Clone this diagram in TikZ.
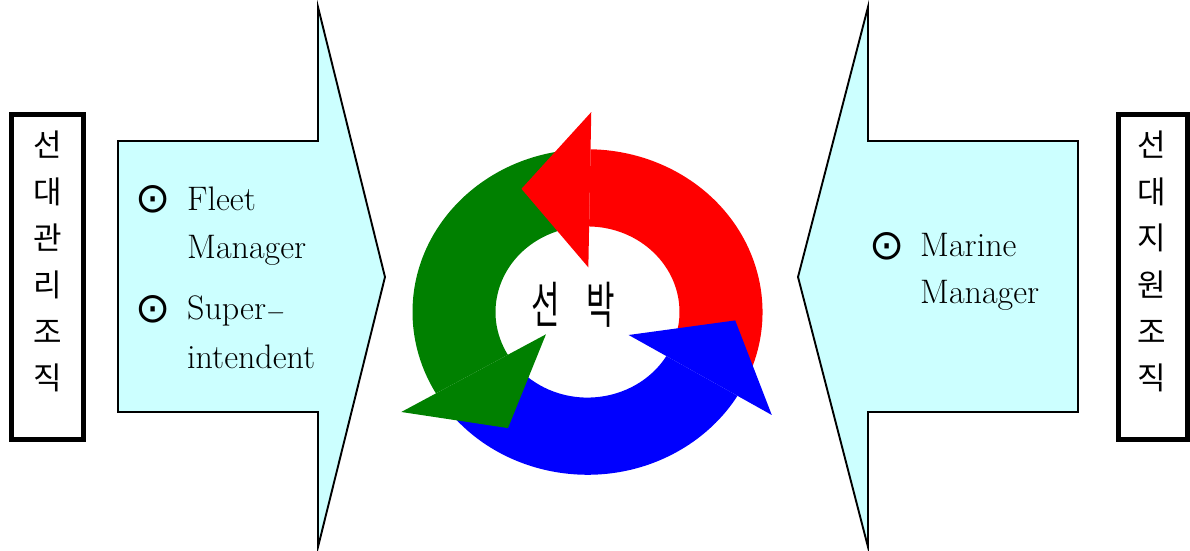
\documentclass[tikz,border=0pt]{standalone}
\usepackage{fontspec}
\newfontfamily\cjk{Noto Sans CJK KR}
\newfontfamily\sym{DejaVu Sans}
\usetikzlibrary{positioning}

\definecolor{paleaqua}{HTML}{CCFFFF}
\definecolor{cycred}{HTML}{FF0000}
\definecolor{cycgreen}{HTML}{008000}
\definecolor{cycblue}{HTML}{0000FF}

\begin{document}
\begin{tikzpicture}[x=1pt, y=-1pt,
			orgbox/.style={draw=black, line width=5pt, fill=white, minimum width=72pt, minimum height=325pt, inner sep=0pt},
			orgtext/.style={font=\cjk\fontsize{31}{46.6}\selectfont, align=center, inner sep=0pt},
			flow/.style={draw=black, line width=1.9pt, fill=paleaqua, line join=miter},
			bullet/.style={font=\sym\fontsize{42}{42}\selectfont, inner sep=0pt},
			item/.style={font=\fontsize{34}{48}\selectfont, inner sep=0pt, anchor=base west}
			]
			\useasboundingbox (0,0) rectangle (1190,550);
			\fill[white] (0,0) rectangle (1190,550);
			\draw[flow] (118,141) -- (318,141) -- (318,7) -- (385,277) -- (318,547) -- (318,412) -- (118,412) -- cycle;
			\draw[flow] (1078,141) -- (868,141) -- (868,7) -- (798,277) -- (868,547) -- (868,412) -- (1078,412) -- cycle;
			\node[orgbox] (mgmtbox) at (47.5,277) {};
			\node[orgtext] (mgmt) at (47.5,261.5) {선\\대\\관\\리\\조\\직};
			\node[orgbox, minimum width=69pt] (suppbox) at (1153,277) {};
			\node[orgtext] (supp) at (1152,261.5) {선\\대\\지\\원\\조\\직};
			\begin{scope}[shift={(587.5,312)}, yscale=-0.93]
				\foreach \s/\b/\col in {-29/89/cycred, 91/210/cycgreen, 212/329/cycblue}{
					\fill[\col] (\s:175) arc[start angle=\s, end angle=\b, radius=175] -- (\b:92) arc[start angle=\b, end angle=\s, radius=92] -- cycle;
				}
				\foreach \b/\col in {89/cycred, 210/cycgreen, 329/cycblue}{
					\fill[\col] (\b:215) -- (\b+27.5:148) -- (\b:48) -- cycle;
				}
			\end{scope}
			\node[font=\cjk\fontsize{50}{50}\selectfont, inner sep=0pt] (ship) at (573.5,305) {\scalebox{0.62}[1]{선\hspace{0.85em}박}};
			\node[bullet] (dot1) at (153,199) {⊙};
			\node[item] (fleet) at (187,210) {Fleet};
			\node[item] (fleetmgr) at (187,258) {Manager};
			\node[bullet] (dot2) at (153,309) {⊙};
			\node[item] (super) at (187,319) {Super$-$};
			\node[item] (intend) at (187,368) {intendent};
			\node[bullet] (dot3) at (887,246) {⊙};
			\node[item] (marine) at (920,256) {Marine};
			\node[item] (marinemgr) at (920,303.5) {Manager};
		\end{tikzpicture}
\end{document}
